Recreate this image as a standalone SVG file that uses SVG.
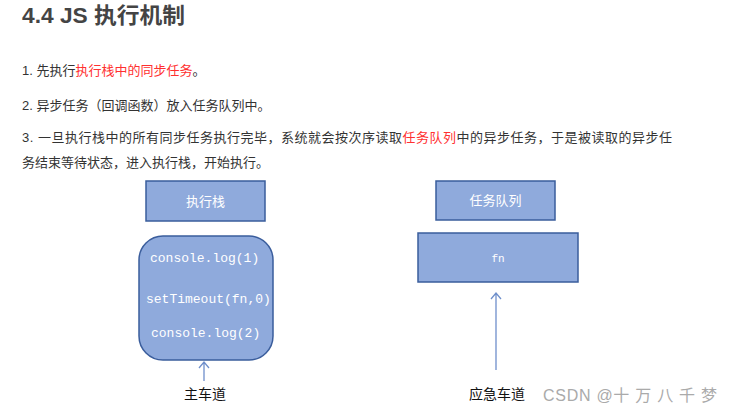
<svg xmlns="http://www.w3.org/2000/svg" width="733" height="413" viewBox="0 0 733 413">
<style>
.t{font-family:"Liberation Sans","Noto Sans CJK SC",sans-serif;fill:#333;font-size:13px}
.r{fill:#ff3030}
.box{fill:#8FAADC;stroke:#3A5D9C;stroke-width:1.5}
.lbl{font-family:"Liberation Sans","Noto Sans CJK SC",sans-serif;fill:#fff;font-size:13px;text-anchor:middle}
.code{font-family:"Liberation Mono","DejaVu Sans Mono",monospace;fill:#fff;font-size:13px}
.cap{font-family:"Liberation Sans","Noto Sans CJK SC",sans-serif;fill:#111;font-size:14px;text-anchor:middle}
.con{stroke:#6F8FCB;stroke-width:1.3;fill:none}
</style>
<rect width="733" height="413" fill="#fff"/>
<text x="22" y="23" textLength="163" lengthAdjust="spacingAndGlyphs" style="font-family:'Liberation Sans','Noto Sans CJK SC',sans-serif;font-weight:bold;font-size:22px;fill:#444">4.4 JS 执行机制</text>
<text class="t" x="22" y="75">1. 先执行<tspan class="r">执行栈中的同步任务</tspan>。</text>
<text class="t" x="22" y="110">2. 异步任务（回调函数）放入任务队列中。</text>
<text class="t" x="22" y="142" textLength="650" lengthAdjust="spacing">3. 一旦执行栈中的所有同步任务执行完毕，系统就会按次序读取<tspan class="r">任务队列</tspan>中的异步任务，于是被读取的异步任</text>
<text class="t" x="22" y="167">务结束等待状态，进入执行栈，开始执行。</text>
<g id="stack-label">
<rect class="box" x="146" y="181" width="119" height="40"/>
<text class="lbl" x="205.5" y="205.5">执行栈</text>
</g>
<g id="stack">
<rect class="box" x="139" y="236" width="134" height="124" rx="24"/>
<text class="code" x="150" y="262">console.log(1)</text>
<text class="code" x="146" y="303">setTimeout(fn,0)</text>
<text class="code" x="151" y="337">console.log(2)</text>
</g>
<g id="queue-label">
<rect class="box" x="436" y="181" width="119" height="39"/>
<text class="lbl" x="495.5" y="205">任务队列</text>
</g>
<g id="queue">
<rect class="box" x="418" y="233" width="160" height="49"/>
<text class="code" x="498" y="262" text-anchor="middle" style="font-size:11px">fn</text>
</g>
<g id="connectors">
<path class="con" d="M204 381V362M199 368L204 362L209 368"/>
<path class="con" d="M496 370V293M491 299L496 293L501 299"/>
</g>
<g id="main-lane"><text class="cap" x="205" y="399">主车道</text></g>
<g id="emergency-lane"><text class="cap" x="497" y="399">应急车道</text></g>
<text x="543" y="401" textLength="174" lengthAdjust="spacing" style="font-family:'Liberation Sans','Noto Sans CJK SC',sans-serif;font-size:16px;fill:#aaa">CSDN @十 万 八 千 梦</text>
</svg>
